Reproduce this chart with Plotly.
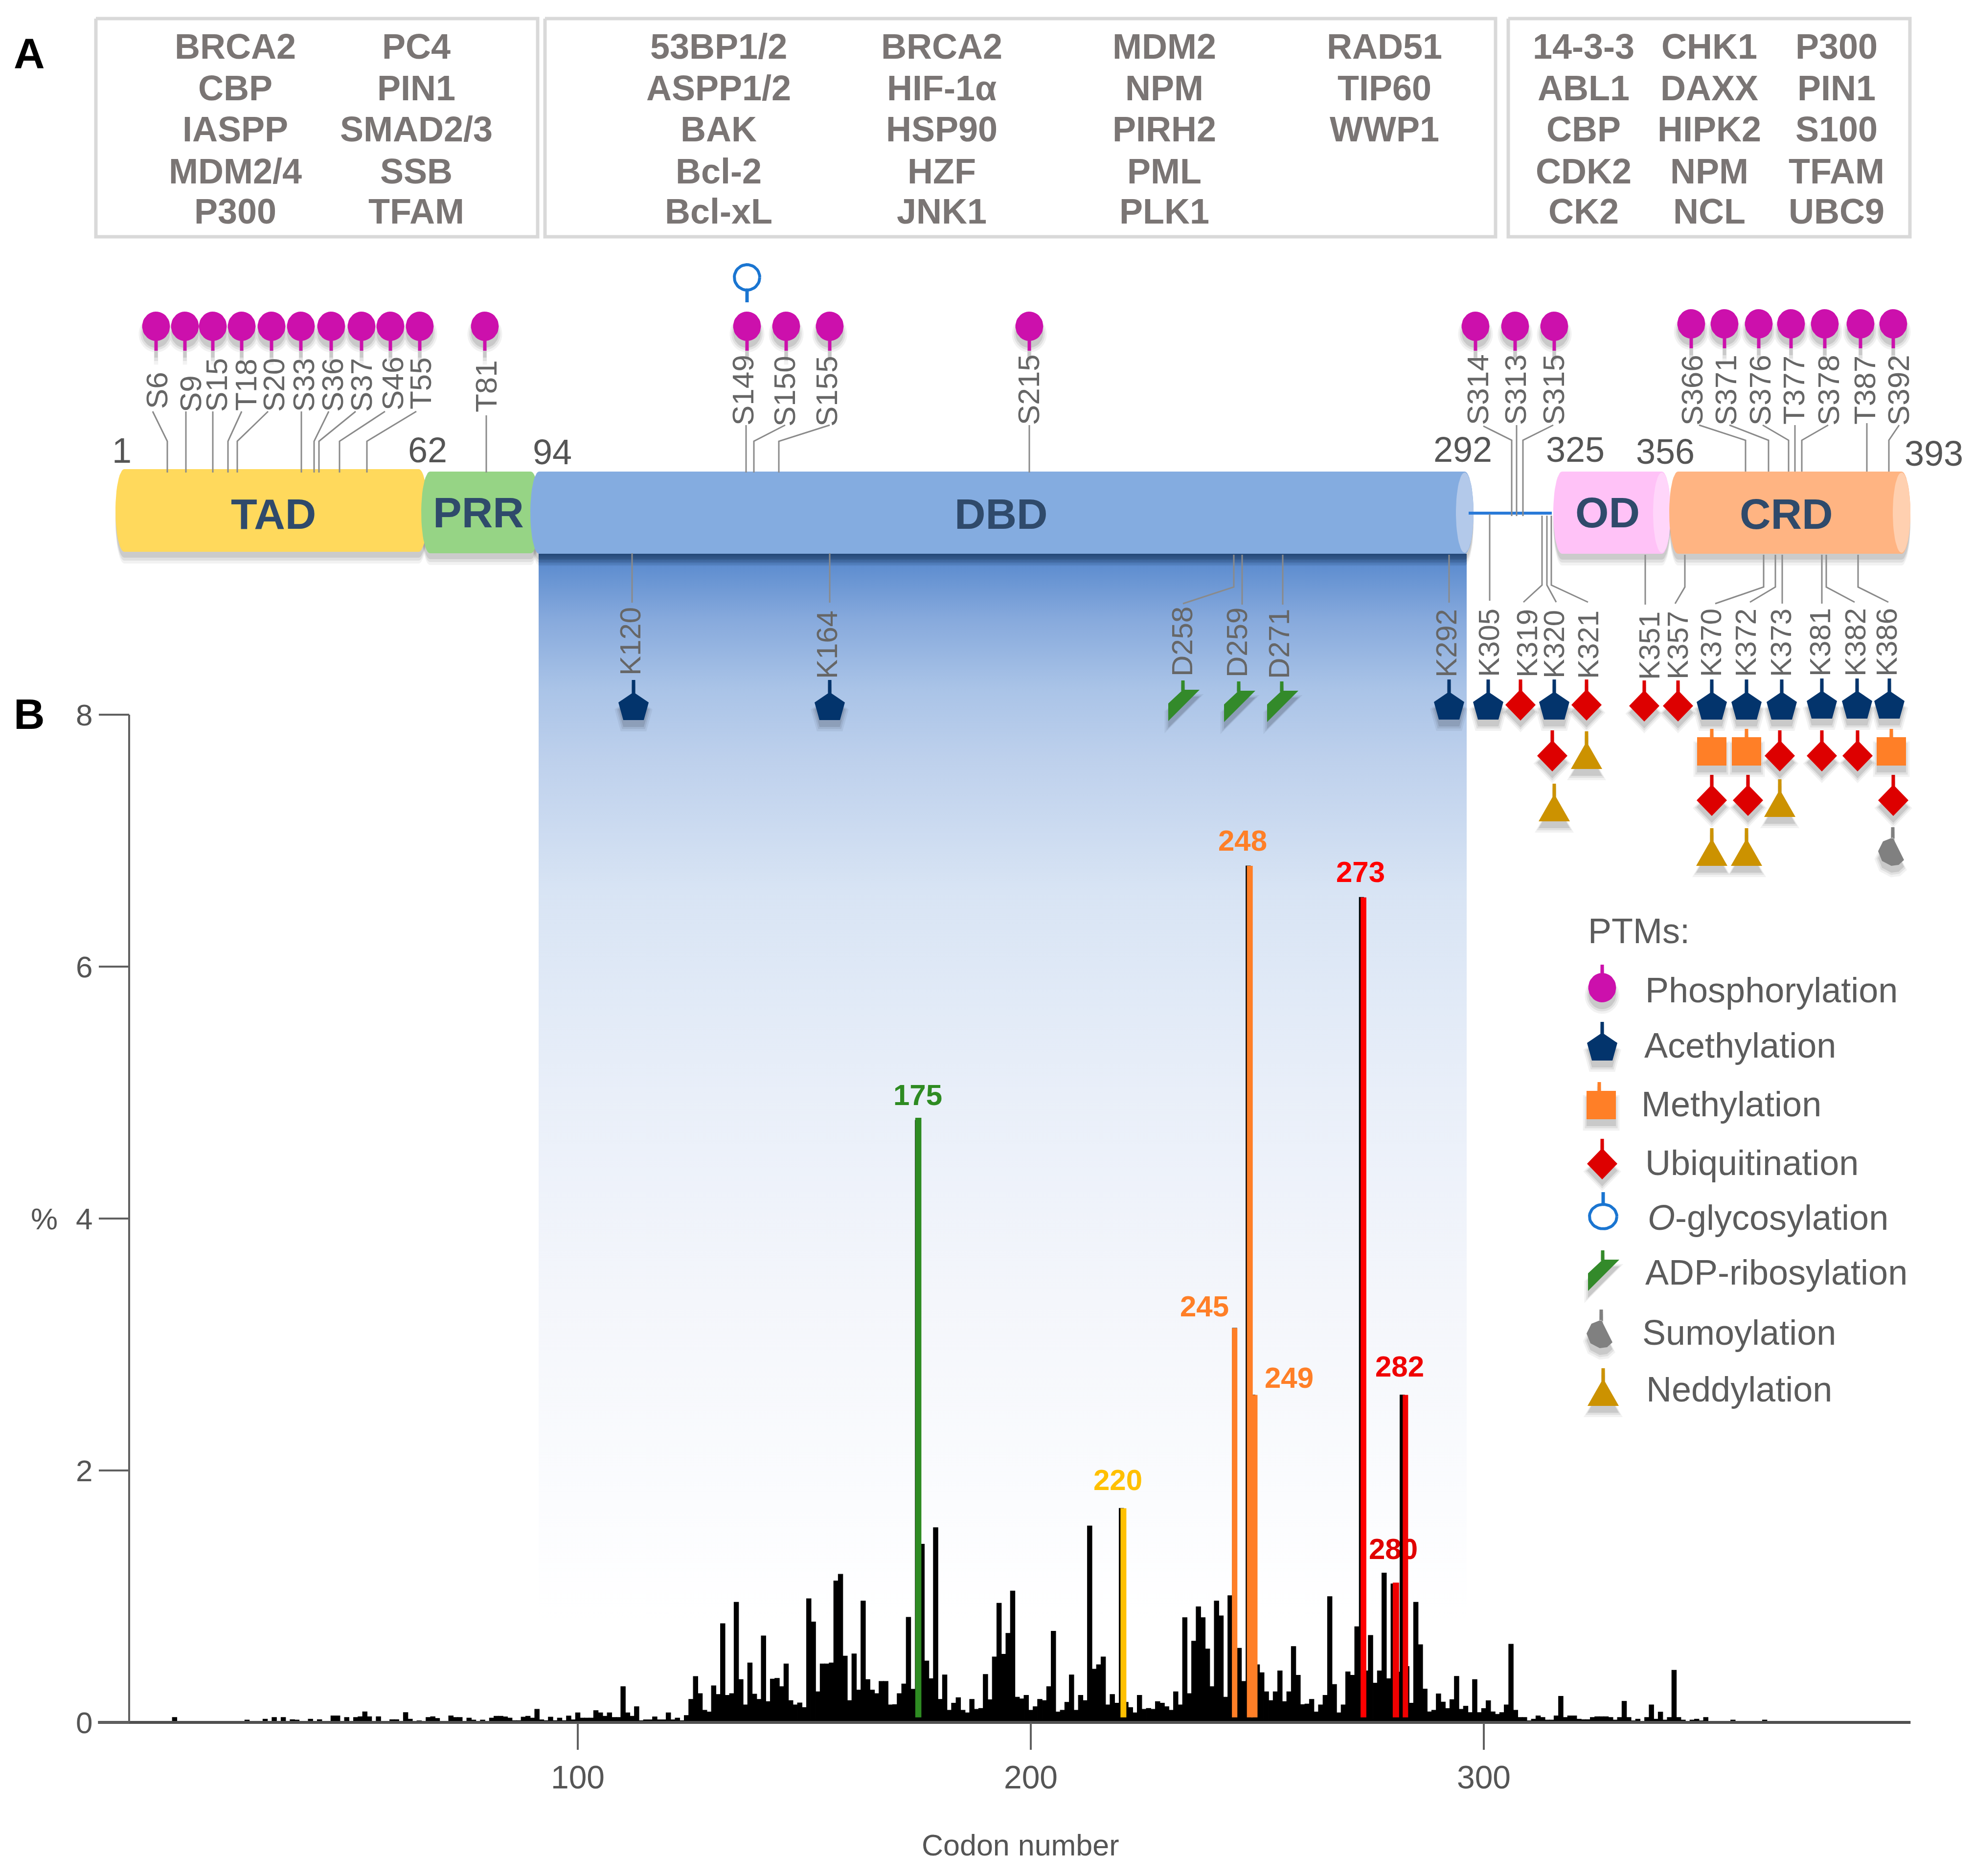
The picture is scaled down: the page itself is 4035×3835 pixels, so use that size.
import numpy as np
import plotly.graph_objects as go

W, H = 4035, 3835
FONT = "Liberation Sans"

# ---------- panel B data: mutation frequency (%) by codon ----------
sparse_codons = [11, 27, 31, 33, 35, 37, 38, 41, 43, 46, 47, 49, 51, 52, 53, 54, 56, 59, 60, 62, 63, 65, 67, 68, 69, 72, 73, 74, 76, 77, 79]
sparse_pct = [.039, .019, .026, .039, .039, .022, .019, .026, .022, .052, .052, .039, .039, .045, .084, .045, .045, .022, .022, .078, .026, .013, .039, .045, .032, .052, .039, .039, .035, .019, .019]
first_dense_codon = 81
dense_pct = [
    .035, .049, .049, .044, .035, .014, .014, .042, .049, .035,  # 81-90
    .104, .021, .014, .042, .014, .035, .014, .051, .021, .076,  # 91-100
    .035, .035, .035, .094, .076, .049, .076, .039, .039, .284,  # 101-110
    .076, .049, .125, .014, .021, .021, .044, .021, .021, .076,  # 111-120
    .021, .035, .014, .055, .183, .365, .229, .097, .083, .291,  # 121-130
    .222, .784, .215, .229, .954, .340, .139, .472, .225, .183,  # 131-140
    .687, .166, .344, .350, .284, .465, .173, .139, .155, .118,  # 141-150
    .982, .798, .243, .465, .465, .472, 1.123, 1.176, .527, .173,  # 151-160
    .544, .257, .964, .340, .257, .229, .326, .326, .139, .141,  # 161-170
    .229, .305, .835, .264, 4.78, 1.415, .488, .347, 1.546, .183,  # 171-180
    .377, .097, .153, .197, .097, .076, .183, .104, .111, .381,  # 181-190
    .180, .520, .946, .541, .707, 1.043, .201, .187, .215, .097,  # 191-200
    .125, .183, .173, .284, .724, .083, .097, .160, .377, .097,  # 201-210
    .215, .173, 1.560, .423, .458, .520, .139, .222, .153, 1.70,  # 211-220
    .160, .118, .076, .215, .104, .111, .104, .166, .153, .125,  # 221-230
    .097, .243, .139, .832, .229, .645, .918, .832, .583, .284,  # 231-240
    .964, .846, .201, 1.006, 3.13, .589, .326, 6.80, 2.60, .458,  # 241-250
    .395, .243, .173, .243, .409, .166, .243, .603, .374, .141,  # 251-260
    .146, .183, .083, .139, .215, .999, .302, .076, .139, .402,  # 261-270
    .374, .760, 6.55, .409, .691, .312, .409, 1.186, .347, 1.10,  # 271-280
    .400, 2.60, .444, .153, .954, .617, .265, .084, .097, .227,  # 281-290
    .162, .110, .181, .366, .104, .129, .078, .340, .078, .110,  # 291-300
    .172, .084, .065, .078, .139, .621, .097, .039, .039, .013,  # 301-310
    .026, .052, .039, .019, .019, .052, .207, .039, .052, .052,  # 311-320
    .026, .022, .022, .039, .045, .045, .045, .039, .019, .039,  # 321-330
    .168, .039, .013, .026, .009, .039, .139, .026, .082, .019,  # 331-340
    .039, .414, .039, .019, .006, .019, .026, .013, .039, .006,  # 341-350
]
tail_codons = [355, 362]
tail_pct = [.019, .019]

hot_codons = [175, 220, 245, 248, 249, 273, 280, 282]
hot_pct = [4.80, 1.70, 3.13, 6.80, 2.60, 6.55, 1.11, 2.60]
hot_colors = ["#2e8b22", "#ffc000", "#ff7f27", "#ff7f27", "#ff7f27", "#ff0000", "#f00000", "#f00000"]
hot_offsets = [-.5, -.2, -.6, -.3, -.35, -.2, -.1, .1]
hot_widths = [1.35, 1.3, 1.2, 1.3, 1.4, 1.27, 1.4, 1.2]
hot_base = .04

x_ticks = [100, 200, 300]
y_ticks = [0, 2, 4, 6, 8]

peak_labels = ["175", "248", "273", "245", "249", "282", "220", "280"]
peak_x = [1876, 2540, 2781, 2462, 2635, 2861, 2285, 2848]
peak_y = [2244, 1724, 1788, 2676, 2822, 2799, 3031, 3172]
peak_colors = ["#2e8b22", "#ff7f27", "#ff0000", "#ff7f27", "#ff7f27", "#f00000", "#ffc000", "#e00000"]

# ---------- interaction-partner boxes ----------
box_x0 = [196, 1114, 3083]
box_x1 = [1099, 3057, 3904]
box_y0, box_y1 = 38, 484
partner_rows_y = [95, 180, 264, 350, 432]
partner_cols = [
    (481, ["BRCA2", "CBP", "IASPP", "MDM2/4", "P300"]),
    (851, ["PC4", "PIN1", "SMAD2/3", "SSB", "TFAM"]),
    (1469, ["53BP1/2", "ASPP1/2", "BAK", "Bcl-2", "Bcl-xL"]),
    (1925, ["BRCA2", "HIF-1α", "HSP90", "HZF", "JNK1"]),
    (2380, ["MDM2", "NPM", "PIRH2", "PML", "PLK1"]),
    (2830, ["RAD51", "TIP60", "WWP1"]),
    (3237, ["14-3-3", "ABL1", "CBP", "CDK2", "CK2"]),
    (3494, ["CHK1", "DAXX", "HIPK2", "NPM", "NCL"]),
    (3754, ["P300", "PIN1", "S100", "TFAM", "UBC9"]),
]

# ---------- protein schematic ----------
domain_names = ["TAD", "PRR", "DBD", "OD", "CRD"]
domain_left = [236, 861, 1084, 3175, 3412]
domain_right = [874, 1103, 3012, 3415, 3905]
domain_top = [959, 964, 964, 964, 964]
domain_bottom = [1128, 1131, 1132, 1132, 1132]
domain_colors = ["#ffd95c", "#96d485", "#84ace0", "#ffc2f7", "#ffb482"]
cap_colors = [None, None, "#b3c9ea", "#ffd6fa", "#ffd0b0"]
domain_label_x = [559, 978, 2046, 3286, 3651]
domain_label_y = [1050, 1047, 1050, 1047, 1050]
boundary_labels = ["1", "62", "94", "292", "325", "356", "393"]
boundary_x = [249, 874, 1129, 2990, 3220, 3404, 3953]
boundary_y = [921, 920, 924, 919, 919, 923, 927]

site_up_names = ["S6", "S9", "S15", "T18", "S20", "S33", "S36", "S37", "S46", "T55", "T81", "S149", "S150", "S155", "S215",
                 "S314", "S313", "S315", "S366", "S371", "S376", "T377", "S378", "T387", "S392"]
site_up_x = [320, 389, 442, 502, 559, 620, 679, 738, 802, 859, 993, 1518, 1603, 1689, 2102,
             3020, 3097, 3175, 3458, 3527, 3597, 3666, 3737, 3811, 3880]
site_up_y = [798, 805, 787, 787, 787, 787, 787, 787, 784, 784, 790, 798, 800, 800, 797,
             797, 797, 797, 798, 798, 798, 798, 798, 798, 798]
site_down_names = ["K120", "K164", "D258", "D259", "D271", "K292", "K305", "K319", "K320", "K321",
                   "K351", "K357", "K370", "K372", "K373", "K381", "K382", "K386"]
site_down_x = [1288, 1690, 2416, 2528, 2614, 2956, 3043, 3121, 3176, 3246,
               3371, 3429, 3497, 3568, 3640, 3720, 3792, 3856]
site_down_y = [1311, 1318, 1312, 1314, 1317, 1315, 1314, 1315, 1317, 1318, 1320, 1319, 1314, 1314, 1314, 1313, 1313, 1313]

# leaders: (start x, start y, elbow y, end x, end y) from the label towards the domain
up_leader_start = [312, 380, 435, 494, 548, 616, 672, 727, 787, 851, 994, 1525, 1605, 1696, 2104,
                   3032, 3100, 3175, 3473, 3535, 3603, 3669, 3737, 3816, 3882]
up_leader_end = [342, 380, 435, 466, 485, 616, 642, 652, 694, 750, 994, 1525, 1541, 1592, 2104,
                 3090, 3100, 3113, 3568, 3615, 3656, 3669, 3683, 3816, 3861]
up_leader_y0 = [841] * 10 + [849, 869, 869, 869, 869, 871, 869, 869, 869, 869, 869, 869, 869, 865, 869]
up_leader_elbow = [902] * 15 + [900] * 10
up_leader_y1 = [966] * 15 + [1055, 1055, 1055] + [964] * 7

down_leader_start = [1292, 1696, 2522, 2539, 2622, 2962, 3045, 3152, 3162, 3171,
                     3363, 3444, 3605, 3629, 3643, 3724, 3733, 3798]
down_leader_end = [1292, 1696, 2418, 2539, 2622, 2962, 3045, 3114, 3181, 3246,
                   3363, 3424, 3506, 3577, 3643, 3724, 3791, 3860]
down_leader_y0 = [1131, 1131, 1134, 1134, 1134, 1134, 1051, 1054, 1054, 1054] + [1134] * 8
down_leader_elbow = [1200] * 7 + [1196] * 3 + [1200] * 8
down_leader_y1 = [1232, 1232, 1234, 1236, 1236, 1232, 1228, 1231, 1231, 1231, 1236, 1234, 1234, 1231, 1234, 1234, 1231, 1231]

# PTM glyph centres
phos_x = [319, 378, 435, 494, 555, 615, 677, 739, 798, 858, 991, 1527, 1607, 1696, 2104, 3016, 3097, 3177,
          3457, 3525, 3595, 3661, 3730, 3803, 3870]
phos_y = [667] * 18 + [662] * 7
oglyc_x, oglyc_y = [1527], [567]
acet_x = [1295, 1696, 2962, 3042, 3177, 3499, 3570, 3642, 3724, 3796, 3862]
acet_y = [1444, 1444, 1443, 1443, 1443, 1443, 1443, 1443, 1441, 1441, 1441]
ubiq_x = [3108, 3243, 3361, 3430, 3173, 3638, 3724, 3797, 3499, 3573, 3870]
ubiq_y = [1441, 1441, 1443, 1443, 1545, 1545, 1545, 1545, 1636, 1636, 1636]
meth_x = [3499, 3570, 3866]
meth_y = [1536, 1536, 1536]
nedd_x = [3243, 3177, 3638, 3499, 3570]
nedd_y = [1544, 1651, 1642, 1742, 1742]
adp_x = [2418, 2532, 2620]
adp_y = [1438, 1440, 1440]
sumo_x, sumo_y = [3869], [1740]

legend_title = "PTMs:"
legend_names = ["Phosphorylation", "Acethylation", "Methylation", "Ubiquitination",
                "<i>O</i>-glycosylation", "ADP-ribosylation", "Sumoylation", "Neddylation"]
legend_text_x = [3361, 3359, 3353, 3361, 3366, 3361, 3355, 3363]
legend_text_y = [2024, 2137, 2257, 2377, 2489, 2601, 2724, 2840]
legend_glyph_x = [3275, 3275, 3273, 3275, 3277, 3276, 3273, 3277]
legend_glyph_y = [2019, 2140, 2259, 2379, 2487, 2603, 2726, 2846]

# ---------- glyph templates ----------
theta = np.linspace(0, 2 * np.pi, 40)
T_CIRCLE = list(zip(28.5 * np.cos(theta), 30 * np.sin(theta)))
T_PENT = [(0, -29), (31, -8), (21, 28), (-21, 28), (-31, -8)]
T_SQUARE = [(-30, -29), (30, -29), (30, 29), (-30, 29)]
T_DIAMOND = [(0, -32), (31, 0), (0, 32), (-31, 0)]
T_TRI = [(0, -28), (32, 28), (-32, 28)]
T_ADP = [(-30, 36), (-30, 0), (0, -28), (34, -28)]
T_SUMO = [(0, -28), (-20, -20), (-30, 0), (-22, 20), (-3, 30), (12, 28), (23, 18)]


def stem(top, bottom, dx=0, w=3.5):
    return [(dx - w, top), (dx + w, top), (dx + w, bottom), (dx - w, bottom)]


def build(xs, ys, poly, stem_poly, scale=1.0, dy=0):
    ox, oy = [], []
    for cx, cy in zip(xs, ys):
        for shape in (poly, stem_poly):
            ox += [cx + scale * p[0] for p in shape] + [cx + scale * shape[0][0], None]
            oy += [cy + dy + scale * p[1] for p in shape] + [cy + dy + scale * shape[0][1], None]
    return ox, oy


fig = go.Figure()


def fill_trace(x, y, color, line=0):
    fig.add_trace(go.Scatter(x=x, y=y, mode="lines", fill="toself", fillcolor=color,
                             line=dict(color=color, width=line), hoverinfo="skip", showlegend=False))


def glyph(xs, ys, poly, stem_poly, color):
    for sc, dy, col in ((1.25, 16, "rgba(0,0,0,.05)"), (1.12, 15, "rgba(0,0,0,.07)"), (1.0, 14, "rgba(0,0,0,.10)")):
        ox, oy = build(xs, ys, poly, stem_poly, sc, dy)
        fill_trace(ox, oy, col)
    ox, oy = build(xs, ys, poly, stem_poly)
    fill_trace(ox, oy, color)


# blue gradient under the DBD
fig.add_trace(go.Scatter(
    x=[1101, 2998, 2998, 1101, 1101], y=[1132, 1132, 3320, 3320, 1132], mode="lines", fill="toself",
    line=dict(width=0, color="rgba(0,0,0,0)"), hoverinfo="skip", showlegend=False,
    fillgradient=dict(type="vertical", start=1132, stop=3320, colorscale=[
        [0, "#2d5a95"], [.012, "#5f8ed0"], [.06, "#86a9dc"], [.125, "#a9c3e7"], [.19, "#bdd0ec"],
        [.315, "#d8e4f4"], [.507, "#e9eff9"], [.70, "#f4f6fb"], [.89, "#fbfcfe"], [1, "#ffffff"]])))

# partner boxes
for x0, x1 in zip(box_x0, box_x1):
    fig.add_trace(go.Scatter(x=[x0, x1, x1, x0, x0], y=[box_y0, box_y0, box_y1, box_y1, box_y0], mode="lines",
                             line=dict(color="#d9d9d9", width=7), hoverinfo="skip", showlegend=False))


# domains, drawn left to right so each rounded left end overlaps its neighbour
def cyl(left, right, top, bottom, b, dy=0, round_right=True):
    t = np.linspace(-np.pi / 2, np.pi / 2, 24)
    mid, half = (top + bottom) / 2, (bottom - top) / 2
    rx = right - b + b * np.cos(t) if round_right else np.full_like(t, right)
    ry = mid + half * np.sin(t)
    lx = (left + b - b * np.cos(t))[::-1]
    ly = (mid + half * np.sin(t))[::-1]
    return list(rx) + list(lx) + [rx[0]], [v + dy for v in list(ry) + list(ly) + [ry[0]]]


for i, name in enumerate(domain_names):
    b = 18
    for dy, a in ((24, .05), (18, .07), (12, .09)):
        sx, sy = cyl(domain_left[i], domain_right[i], domain_top[i], domain_bottom[i], b, dy)
        fill_trace(sx, sy, f"rgba(0,0,0,{a})")
for i, name in enumerate(domain_names):
    b = 18
    sx, sy = cyl(domain_left[i], domain_right[i], domain_top[i], domain_bottom[i], b)
    fill_trace(sx, sy, domain_colors[i])
    if cap_colors[i]:
        t = np.linspace(0, 2 * np.pi, 50)
        mid, half = (domain_top[i] + domain_bottom[i]) / 2, (domain_bottom[i] - domain_top[i]) / 2
        fill_trace(list(domain_right[i] - b + b * np.cos(t)), list(mid + (half - 2) * np.sin(t)), cap_colors[i])

# OD/DBD connector
fig.add_trace(go.Scatter(x=[3002, 3172], y=[1049, 1049], mode="lines", line=dict(color="#2a7ad8", width=6),
                         hoverinfo="skip", showlegend=False))

# leaders
lx, ly = [], []
for a, e, y0, yb, y1 in zip(up_leader_start, up_leader_end, up_leader_y0, up_leader_elbow, up_leader_y1):
    lx += [a, e, e, None]
    ly += [y0, yb, y1, None]
for a, e, y0, yb, y1 in zip(down_leader_start, down_leader_end, down_leader_y0, down_leader_elbow, down_leader_y1):
    lx += [a, a, e, None]
    ly += [y0, yb, y1, None]
fig.add_trace(go.Scatter(x=lx, y=ly, mode="lines", line=dict(color="#8a8a8a", width=3),
                         hoverinfo="skip", showlegend=False))

# PTM glyphs on the schematic
glyph(phos_x, phos_y, T_CIRCLE, stem(27, 50), "#cc10ac")
glyph(acet_x, acet_y, T_PENT, stem(-54, -26), "#03346c")
glyph(ubiq_x, ubiq_y, T_DIAMOND, stem(-52, -27), "#dd0000")
glyph(meth_x, meth_y, T_SQUARE, stem(-46, -27), "#ff7f27")
glyph(nedd_x, nedd_y, T_TRI, stem(-49, -20), "#cc9200")
glyph(adp_x, adp_y, T_ADP, stem(-47, -26), "#338a2a")
glyph(sumo_x, sumo_y, T_SUMO, stem(-49, -26), "#808080")

# O-glycosylation ring
for cx, cy in zip(oglyc_x, oglyc_y):
    gx, gy = [cx + 26 * np.cos(t) for t in theta], [cy + 26 * np.sin(t) for t in theta]
    fig.add_trace(go.Scatter(x=gx, y=gy, mode="lines", line=dict(color="#1a75d1", width=6), hoverinfo="skip", showlegend=False))
    fig.add_trace(go.Scatter(x=[cx, cx], y=[cy + 28, cy + 51], mode="lines", line=dict(color="#1a75d1", width=7), hoverinfo="skip", showlegend=False))

# legend glyphs
legend_polys = [(T_CIRCLE, stem(-47, -28)), (T_PENT, stem(-51, -26)), (T_SQUARE, stem(-47, -27, -4)), (T_DIAMOND, stem(-51, -27))]
legend_cols = ["#cc10ac", "#03346c", "#ff7f27", "#dd0000"]
for k, (poly, st) in enumerate(legend_polys):
    glyph([legend_glyph_x[k]], [legend_glyph_y[k]], poly, st, legend_cols[k])
cx, cy = legend_glyph_x[4], legend_glyph_y[4]
fig.add_trace(go.Scatter(x=[cx + 28 * np.cos(t) for t in theta], y=[cy + 25 * np.sin(t) for t in theta], mode="lines",
                         line=dict(color="#1a75d1", width=6), hoverinfo="skip", showlegend=False))
fig.add_trace(go.Scatter(x=[cx, cx], y=[cy - 50, cy - 26], mode="lines", line=dict(color="#1a75d1", width=7), hoverinfo="skip", showlegend=False))
glyph([legend_glyph_x[5]], [legend_glyph_y[5]], T_ADP, stem(-47, -26), "#338a2a")
glyph([legend_glyph_x[6]], [legend_glyph_y[6]], T_SUMO, stem(-49, -26), "#808080")
glyph([legend_glyph_x[7]], [legend_glyph_y[7]], T_TRI, stem(-49, -20), "#cc9200")

# peak labels sit below the bars (280 is crossed by bar 282)
fig.add_trace(go.Scatter(x=peak_x, y=peak_y, mode="text", text=[f"<b>{t}</b>" for t in peak_labels],
                         textposition="middle center", textfont=dict(family=FONT, size=60, color=peak_colors),
                         hoverinfo="skip", showlegend=False))

# ---------- bars on the codon axes ----------
codons = sparse_codons + list(range(first_dense_codon, first_dense_codon + len(dense_pct))) + tail_codons
pct = sparse_pct + dense_pct + tail_pct
fig.add_trace(go.Bar(x=codons, y=pct, width=1, marker=dict(color="#000000", line=dict(width=1.2, color="#000000")),
                     xaxis="x2", yaxis="y2", name="Mutation frequency", showlegend=False))
fig.add_trace(go.Bar(x=hot_codons, y=[v - hot_base for v in hot_pct], base=hot_base, width=hot_widths, offset=hot_offsets,
                     marker=dict(color=hot_colors, line=dict(width=0)), xaxis="x2", yaxis="y2",
                     name="Hotspots", showlegend=False))

# axis lines (ticks and labels come from the axes themselves)
ax_x0, ax_x1, ax_y_at = -5.9, 394.2, .97
fig.add_trace(go.Scatter(x=[ax_x0, ax_x1], y=[0, 0], mode="lines", line=dict(color="#505050", width=6),
                         xaxis="x2", yaxis="y2", hoverinfo="skip", showlegend=False))
fig.add_trace(go.Scatter(x=[ax_y_at, ax_y_at], y=[0, 8], mode="lines", line=dict(color="#606060", width=4),
                         xaxis="x2", yaxis="y2", hoverinfo="skip", showlegend=False))

# ---------- text ----------
ann = []


def txt(x, y, s, size, color, bold=False, angle=0, xanchor="center"):
    ann.append(dict(x=x, y=y, xref="x", yref="y", text=f"<b>{s}</b>" if bold else s, showarrow=False,
                    font=dict(family=FONT, size=size, color=color), textangle=angle, xanchor=xanchor, yanchor="middle"))


txt(60, 108, "A", 88, "#000000", True)
txt(60, 1459, "B", 88, "#000000", True)
for cx, names in partner_cols:
    for yy, n in zip(partner_rows_y, names):
        txt(cx, yy, n, 72, "#7a7574", True)
for n, x, y in zip(site_up_names, site_up_x, site_up_y):
    txt(x, y, n, 62, "#666666", angle=-90)
for n, x, y in zip(site_down_names, site_down_x, site_down_y):
    txt(x, y, n, 60, "#666666", angle=-90)
for n, x, y in zip(domain_names, domain_label_x, domain_label_y):
    txt(x, y, n, 88, "#2f4a6b", True)
for n, x, y in zip(boundary_labels, boundary_x, boundary_y):
    txt(x, y, n, 72, "#555555")
txt(3244, 1903, legend_title, 72, "#5c5c5c", xanchor="left")
for n, x, y in zip(legend_names, legend_text_x, legend_text_y):
    txt(x, y, n, 72, "#5c5c5c", xanchor="left")
txt(90, 2491, "%", 62, "#555555")
txt(2086, 3772, "Codon number", 61, "#555555")

PX_PER_CODON, PX_PER_PCT = 9.26, 257.5
X100, Y0 = 1181, 3521
fig.update_layout(
    width=W, height=H, margin=dict(l=0, r=0, t=0, b=0), paper_bgcolor="white", plot_bgcolor="white",
    barmode="overlay", showlegend=False, annotations=ann,
    xaxis=dict(range=[0, W], visible=False, fixedrange=True),
    yaxis=dict(range=[H, 0], visible=False, fixedrange=True),
    xaxis2=dict(overlaying="x", anchor="free", position=1 - Y0 / H,
                range=[100 - X100 / PX_PER_CODON, 100 + (W - X100) / PX_PER_CODON],
                tickmode="array", tickvals=x_ticks, ticks="outside", ticklen=55, tickwidth=4, tickcolor="#606060",
                showgrid=False, zeroline=False, showline=False, fixedrange=True,
                tickfont=dict(family=FONT, size=66, color="#555555")),
    yaxis2=dict(overlaying="y", anchor="free", position=264 / W, side="left",
                range=[(Y0 - H) / PX_PER_PCT, Y0 / PX_PER_PCT],
                tickmode="array", tickvals=y_ticks, ticks="outside", ticklen=62, tickwidth=4, tickcolor="#606060",
                showgrid=False, zeroline=False, showline=False, fixedrange=True,
                tickfont=dict(family=FONT, size=62, color="#555555")),
)

fig.write_html("out.html", config={"displayModeBar": False},
               post_script="document.body.style.margin='0';document.body.style.overflow='hidden';")
